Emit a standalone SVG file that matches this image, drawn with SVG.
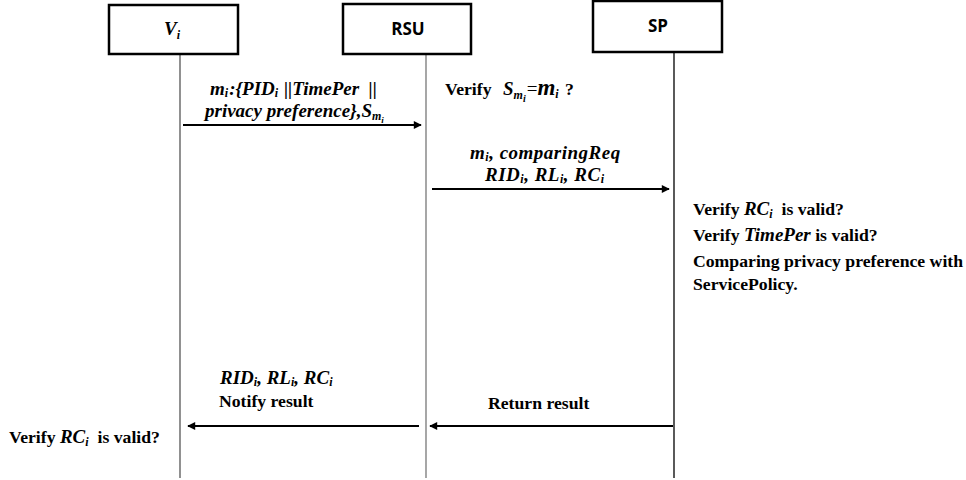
<svg xmlns="http://www.w3.org/2000/svg" width="966" height="480" viewBox="0 0 966 480">
  <style>
    .box { fill: #ffffff; stroke: #000000; stroke-width: 2.5; }
    .life { stroke-width: 1.3; fill: none; }
    .msg { stroke: #000000; stroke-width: 2; fill: none; }
    .hdr { font-family: "Open Sans", "Liberation Sans", sans-serif; font-weight: bold; font-size: 17px; fill: #000; }
    .math { font-family: "Liberation Serif", "DejaVu Serif", serif; font-weight: bold; font-style: italic; font-size: 19px; fill: #000; white-space: pre; }
    .note { font-family: "Liberation Serif", "DejaVu Serif", serif; font-weight: bold; font-size: 17.7px; fill: #000; white-space: pre; }
    .sub { font-size: 12px; }
  </style>
  <defs>
    <marker id="arrow" viewBox="0 0 10 10" refX="9" refY="5" markerWidth="4.5" markerHeight="4" markerUnits="strokeWidth" orient="auto">
      <path d="M0,0 L10,5 L0,10 Z" fill="#000"/>
    </marker>
  </defs>

  <!-- lifelines -->
  <g id="lifelines">
    <line class="life" x1="180" y1="54" x2="180" y2="478" stroke="#555"/>
    <line class="life" x1="426" y1="54" x2="426" y2="478" stroke="#777"/>
    <line class="life" x1="674" y1="52" x2="674" y2="478" stroke="#000"/>
  </g>

  <!-- participants -->
  <g id="vehicle">
    <rect class="box" x="109" y="5" width="129" height="49"/>
    <text class="math" x="164" y="35" font-size="22">V<tspan class="sub" font-size="14" dy="4">i</tspan></text>
  </g>
  <g id="rsu">
    <rect class="box" x="343" y="4" width="128" height="50"/>
    <text class="hdr" x="408" y="35" text-anchor="middle">RSU</text>
  </g>
  <g id="sp">
    <rect class="box" x="593" y="1" width="129" height="51"/>
    <text class="hdr" x="658" y="32" text-anchor="middle">SP</text>
  </g>

  <!-- messages -->
  <g id="connectors">
    <line class="msg" x1="183" y1="125" x2="421" y2="125" marker-end="url(#arrow)"/>
    <line class="msg" x1="432" y1="189" x2="669" y2="189" marker-end="url(#arrow)"/>
    <line class="msg" x1="673" y1="426" x2="430" y2="426" marker-end="url(#arrow)"/>
    <line class="msg" x1="419" y1="426" x2="188" y2="426" marker-end="url(#arrow)"/>
  </g>

  <!-- message labels -->
  <g id="labels">
    <text class="math" x="210" y="95">m<tspan class="sub" dy="2">i</tspan><tspan dx="1" dy="-2">:{PID</tspan><tspan class="sub" dy="2">i</tspan><tspan dx="1" dy="-2"> ||TimePer  ||</tspan></text>
    <text class="math" x="205" y="117" font-size="17">privacy preference},S<tspan class="sub" font-size="13" dy="3">m</tspan><tspan font-size="9" dy="3">i</tspan></text>

    <text class="note" x="445" y="95">Verify</text>
    <text class="math" x="503" y="95" font-size="22">S<tspan class="sub" font-size="14" dy="4">m</tspan><tspan font-size="10" dy="3">i</tspan><tspan font-weight="normal" font-style="normal" dy="-7" dx="1">=</tspan><tspan font-size="23">m</tspan><tspan class="sub" font-size="14" dy="3">i</tspan><tspan class="note" font-style="normal" dy="-3" dx="2" font-size="21"> ?</tspan></text>

    <text class="math" x="470" y="159" font-size="21.5" letter-spacing="0.5">m<tspan class="sub" dy="2">i</tspan><tspan dy="-2">, comparingReq</tspan></text>
    <text class="math" x="485" y="181" font-size="21" letter-spacing="0.5">RID<tspan class="sub" dy="2">i</tspan><tspan dy="-2">, RL</tspan><tspan class="sub" dy="2">i</tspan><tspan dy="-2">, RC</tspan><tspan class="sub" dy="2">i</tspan></text>

    <text class="note" x="693" y="215">Verify <tspan class="math" font-size="20">RC</tspan><tspan class="math sub" font-size="14" dy="3">i</tspan><tspan dy="-3">  is valid?</tspan></text>
    <text class="note" x="693" y="241">Verify <tspan class="math" font-size="19">TimePer</tspan> is valid?</text>
    <text class="note" x="693" y="267">Comparing privacy preference with</text>
    <text class="note" x="693" y="290">ServicePolicy.</text>

    <text class="math" x="220" y="384" font-size="19.5">RID<tspan class="sub" dy="2">i</tspan><tspan dy="-2">, RL</tspan><tspan class="sub" dy="2">i</tspan><tspan dy="-2">, RC</tspan><tspan class="sub" dy="2">i</tspan></text>
    <text class="note" x="219" y="407" font-size="20.5">Notify result</text>
    <text class="note" x="488" y="409">Return result</text>

    <text class="note" x="9" y="443">Verify <tspan class="math" font-size="20">RC</tspan><tspan class="math sub" font-size="14" dy="3">i</tspan><tspan dy="-3">  is valid?</tspan></text>
  </g>
</svg>
